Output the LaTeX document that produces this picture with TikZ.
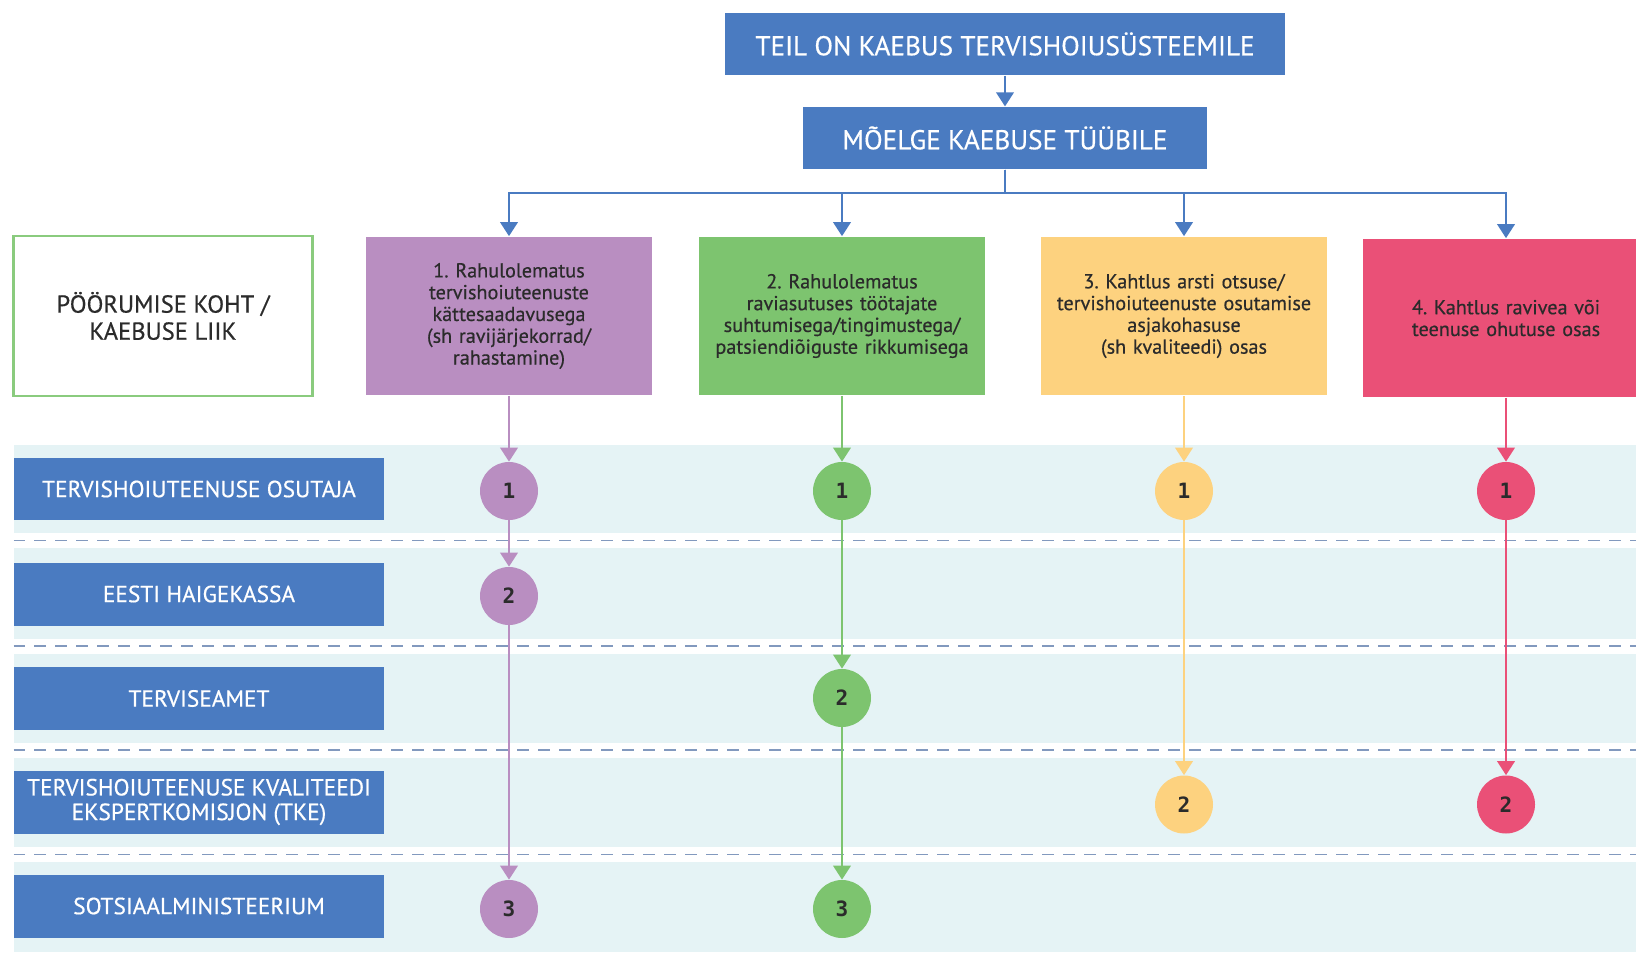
\documentclass[tikz,border=0pt]{standalone}
\usepackage{fontspec}
\setmainfont{PT Sans}[FakeBold=0.5]
\newfontfamily\digitfont{DejaVu Sans Mono}
\usepackage{tikz}
\usetikzlibrary{positioning,shapes,fit,arrows.meta}
\definecolor{kblue}{HTML}{4A7BC1}
\definecolor{kpurple}{HTML}{B98EC1}
\definecolor{kgreen}{HTML}{7DC46F}
\definecolor{kyellow}{HTML}{FDD27F}
\definecolor{kred}{HTML}{EA5077}
\definecolor{kband}{HTML}{E5F3F5}
\definecolor{kdash}{HTML}{8299BE}
\definecolor{klegend}{HTML}{8ACB7E}
\definecolor{ktext}{HTML}{2B2B2B}
\tikzset{
        >={Triangle[width=10pt,length=8pt]}, % filled arrow heads
        headbox/.style={fill=kblue, text=white, minimum height=1.25cm, font=\fontsize{15.5}{18}\selectfont}, % the two boxes on top
        typebox/.style={minimum width=5.74cm, minimum height=3.18cm, text width=5.4cm, align=center, text=ktext, font=\fontsize{11.5}{12.4}\selectfont}, % kind of complaint
        rowbox/.style={fill=kblue, text=white, minimum width=7.41cm, minimum height=1.26cm, align=center, font=\fontsize{13.3}{14}\selectfont}, % where to turn
        numdot/.style={circle, minimum size=1.16cm, inner sep=0pt, text=ktext, font=\digitfont\bfseries\fontsize{12}{12}\selectfont}, % numbered step
        flow/.style={->, line width=1.2pt},
}
\frenchspacing
\begin{document}
\begin{tikzpicture}[x=0.02cm,y=-0.02cm]
\useasboundingbox (0,0) rectangle (1636,953);
% lanes
\fill[kband] (13.5,444.5) rectangle (1636,951.6);
\foreach \y in {540.5,646,750,854.5}{
  \fill[white] (13.5,\y-7.5) rectangle (1636,\y+7.5);
  \draw[kdash,line width=1.1pt,dash pattern=on 0.24cm off 0.18cm] (13.5,\y) -- (1636,\y);
}

\node[headbox, minimum width=11.2cm] (kaebus) at (1005,44) {TEIL ON KAEBUS TERVISHOIUSÜSTEEMILE};
\node[headbox, minimum width=8.08cm] (moelge) at (1005,138) {MÕELGE KAEBUSE TÜÜBILE};
\draw[flow,kblue] (kaebus) -- (moelge);

\node[draw=klegend, line width=1.2pt, minimum width=5.98cm, minimum height=3.2cm, align=center, text=ktext,
      font=\fontsize{14}{15.4}\selectfont] (liik) at (163,316) {PÖÖRUMISE KOHT /\\KAEBUSE LIIK};
\node[typebox, fill=kpurple] (k1) at (509,316) {1. Rahulolematus\\tervishoiuteenuste\\kättesaadavusega\\(sh ravijärjekorrad/\\rahastamine)};
\node[typebox, fill=kgreen] (k2) at (842,316) {2. Rahulolematus\\raviasutuses töötajate\\suhtumisega/tingimustega/\\patsiendiõiguste rikkumisega};
\node[typebox, fill=kyellow] (k3) at (1184,316) {3. Kahtlus arsti otsuse/\\tervishoiuteenuste osutamise\\asjakohasuse\\(sh kvaliteedi) osas};
\node[typebox, fill=kred] (k4) at (1506,318) {4. Kahtlus ravivea või\\teenuse ohutuse osas};

\coordinate (jn) at (1005,193);
\foreach \k in {1,...,4}
  \draw[flow,kblue] (moelge.south) -- (jn) -| (k\k.north);

\foreach \n/\y/\t in {osutaja/489/TERVISHOIUTEENUSE OSUTAJA, haigekassa/594/EESTI HAIGEKASSA,
    amet/698.5/TERVISEAMET, tke/802/{TERVISHOIUTEENUSE KVALITEEDI\\EKSPERTKOMISJON (TKE)},
    ministeerium/906/SOTSIAALMINISTEERIUM}
  \node[rowbox] (\n) at (199,\y) {\t};

\foreach \c/\x/\col in {1/509/kpurple, 2/842/kgreen, 3/1184/kyellow, 4/1506/kred}
  \node[numdot, fill=\col] (c\c a) at (\x,491) {1};
\node[numdot, fill=kpurple] (c1b) at (509,596) {2};
\node[numdot, fill=kpurple] (c1c) at (509,909) {3};
\node[numdot, fill=kgreen] (c2b) at (842,698) {2};
\node[numdot, fill=kgreen] (c2c) at (842,909) {3};
\node[numdot, fill=kyellow] (c3b) at (1184,804.5) {2};
\node[numdot, fill=kred] (c4b) at (1506,804.5) {2};

\foreach \a/\b/\col in {k1/c1a/kpurple, c1a/c1b/kpurple, c1b/c1c/kpurple,
    k2/c2a/kgreen, c2a/c2b/kgreen, c2b/c2c/kgreen,
    k3/c3a/kyellow, c3a/c3b/kyellow, k4/c4a/kred, c4a/c4b/kred}
  \draw[flow,\col] (\a) -- (\b);
\end{tikzpicture}
\end{document}
